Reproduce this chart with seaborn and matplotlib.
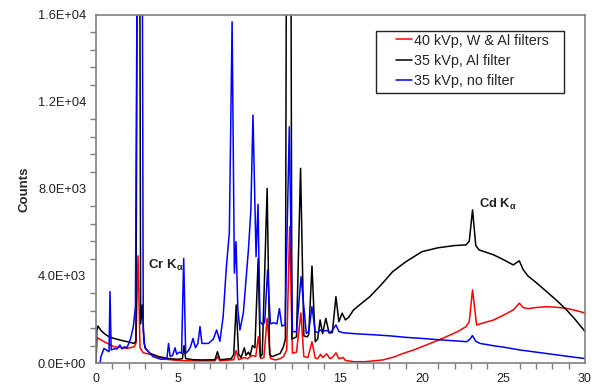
import numpy as np
import pandas as pd
import seaborn as sns
import matplotlib
matplotlib.use("Agg")
import matplotlib.pyplot as plt
from matplotlib.ticker import MultipleLocator, FuncFormatter
from matplotlib.patches import Rectangle

# ---------------- data ----------------
series_names = ["40 kVp, W & Al filters", "35 kVp, Al filter", "35 kVp, no filter"]
series_colors = ["#ff0000", "#000000", "#0000ff"]

energy_red = [0.0, 0.05, 0.1, 0.5, 1.1, 1.9, 2.35, 2.45, 2.58, 2.7, 2.9, 3.5, 4.3, 5.0, 5.6,
              7.3, 7.45, 7.6, 8.45, 8.6, 8.75, 9.1, 9.3, 9.6, 9.8, 9.96, 10.1, 10.3, 10.5, 10.7,
              11.0, 11.3, 11.5, 11.7, 11.88, 12.05, 12.3, 12.57, 12.75, 13.0, 13.25, 13.45, 13.6,
              13.78, 13.9, 14.15, 14.35, 14.5, 14.72, 14.9, 15.17, 15.3, 15.8, 16.5, 17.6, 18.3,
              18.84, 19.5, 20.0, 21.0, 21.5, 22.2, 22.7, 22.9, 23.1, 23.35, 23.8, 24.4, 25.0,
              25.6, 25.97, 26.2, 26.5, 27.0, 27.65, 28.3, 28.87, 29.4, 30.0]
counts_red = [0, 1100, 1150, 980, 750, 670, 750, 900, 4930, 700, 470, 370, 170, 120, 100,
              100, 290, 100, 150, 570, 150, 250, 200, 350, 300, 1210, 210, 250, 2050, 210,
              140, 200, 290, 600, 6270, 450, 500, 2300, 300, 250, 980, 230, 200,
              400, 250, 420, 200, 250, 470, 200, 250, 120, 60, 60, 140, 280,
              440, 600, 750, 1050, 1210, 1450, 1670, 1900, 3360, 1750, 1850, 1980, 2200,
              2440, 2750, 2550, 2500, 2550, 2590, 2560, 2510, 2420, 2300]

energy_black = [0.0, 0.05, 0.12, 0.3, 0.5, 0.8, 1.1, 1.5, 1.92, 2.33, 2.45, 2.62, 2.74, 2.84,
                2.95, 3.05, 3.3, 3.8, 4.5, 5.0, 5.3, 5.4, 5.5, 6.0, 6.5, 7.3, 7.45, 7.6, 8.3,
                8.45, 8.6, 8.75, 8.9, 9.1, 9.2, 9.35, 9.45, 9.6, 9.75, 9.95, 10.08, 10.2, 10.5,
                10.65, 10.8, 11.0, 11.3, 11.5, 11.62, 11.82, 12.02, 12.3, 12.55, 12.75, 12.95,
                13.05, 13.25, 13.45, 13.6, 13.75, 13.9, 14.1, 14.3, 14.5, 14.72, 14.9, 15.1,
                15.3, 15.5, 15.8, 16.3, 16.8, 17.5, 18.2, 19.0, 20.0, 21.0, 21.5, 22.0, 22.7,
                22.9, 23.1, 23.3, 23.5, 24.4, 25.0, 25.6, 25.97, 26.2, 26.5, 27.0, 27.65,
                28.3, 28.87, 29.4, 30.0]
counts_black = [0, 1500, 1700, 1500, 1360, 1200, 1130, 1050, 980, 900, 1000, 40000, 1800, 2670,
                900, 650, 450, 300, 200, 170, 200, 800, 200, 150, 140, 150, 520, 150, 200,
                400, 2670, 400, 250, 700, 350, 500, 350, 800, 700, 4800, 290, 400, 8030,
                400, 290, 350, 440, 750, 1100, 60000, 1100, 1200, 8950, 1250, 1200,
                1300, 4460, 980, 1100, 1980, 1350, 2050, 1380, 1400, 3050, 1900, 2290,
                1980, 2100, 2440, 2750, 3050, 3600, 4200, 4650, 5120, 5300, 5350, 5400, 5430,
                5600, 7040, 5400, 5200, 4970, 4750, 4510, 4700, 4300, 4000, 3700, 3280,
                2850, 2440, 2000, 1450]

energy_blue = [0.0, 0.25, 0.3, 0.49, 0.8, 0.86, 0.93, 1.1, 1.3, 1.47, 1.6, 1.75, 1.9, 2.13,
               2.29, 2.42, 2.6, 2.7, 2.8, 2.9, 3.0, 3.5, 4.0, 4.35, 4.45, 4.55, 4.7, 4.85,
               4.95, 5.1, 5.25, 5.38, 5.5, 5.7, 5.8, 5.95, 6.1, 6.25, 6.38, 6.5, 6.9, 7.2, 7.4,
               7.6, 7.8, 8.0, 8.18, 8.35, 8.49, 8.59, 8.7, 8.83, 9.04, 9.35, 9.5, 9.63, 9.82,
               9.94, 10.06, 10.25, 10.35, 10.53, 10.7, 10.9, 11.1, 11.25, 11.4, 11.6, 11.86,
               12.05, 12.3, 12.58, 12.9, 13.05, 13.25, 13.45, 13.6, 13.75, 13.9, 14.15, 14.4,
               14.72, 14.9, 15.17, 16.0, 17.0, 18.0, 19.0, 20.0, 21.0, 22.0, 22.74, 22.95,
               23.09, 23.3, 23.56, 24.5, 25.0, 26.0, 27.0, 28.0, 29.0, 29.9, 30.0]
counts_blue = [0, 0, 290, 670, 520, 3280, 600, 650, 650, 830, 650, 750, 700, 1130,
               1670, 2590, 30000, 22000, 30000, 1500, 700, 290, 170, 200, 900, 300, 350, 700,
               400, 500, 450, 4810, 440, 600, 750, 1130, 700, 900, 1670, 900, 900, 1100, 1520,
               1000, 2130, 4430, 5980, 15690, 4130, 5580, 2500, 1520, 2300, 5200, 7000, 11400, 4890,
               7300, 1900, 1750, 1900, 4280, 1800, 1850, 1800, 2500, 1700, 1750, 10860,
               1440, 1440, 3970, 1360, 1450, 2590, 1450, 1400, 1520, 1450, 1500, 1400,
               1750, 1450, 1390, 1340, 1300, 1250, 1180, 1130, 1070, 1020, 980, 1100,
               1260, 1000, 900, 780, 730, 600, 500, 400, 300, 215, 200]

x_ticks = [0, 5, 10, 15, 20, 25, 30]
y_ticks = [0, 4000, 8000, 12000, 16000]

# ---------------- build table ----------------
frames = []
for name, e, c in zip(series_names,
                      [energy_red, energy_black, energy_blue],
                      [counts_red, counts_black, counts_blue]):
    frames.append(pd.DataFrame({"Energy": e, "Counts": c, "Series": name}))
df = pd.concat(frames, ignore_index=True)

# ---------------- style ----------------
sns.set_style("white")
plt.rcParams["font.family"] = ["Liberation Sans", "DejaVu Sans"]
plt.rcParams["mathtext.fontset"] = "custom"
plt.rcParams["mathtext.rm"] = "Liberation Sans"
plt.rcParams["mathtext.bf"] = "Liberation Sans:bold"

W, H = 595, 384
fig = plt.figure(figsize=(W / 100, H / 100), dpi=100)
L, R, T, B = 96, 585, 15, 363
ax = fig.add_axes([L / W, 1 - B / H, (R - L) / W, (B - T) / H])

def axfrac(px, py):
    return (px - L) / (R - L), 1 - (py - T) / (B - T)

sns.lineplot(data=df, x="Energy", y="Counts", hue="Series", hue_order=series_names,
             palette=series_colors, estimator=None, sort=False, linewidth=1.1, ax=ax)

ax.set_xlim(0, 30)
ax.set_ylim(0, 16000)
ax.set_xticks(x_ticks)
ax.set_yticks(y_ticks)
ax.xaxis.set_minor_locator(MultipleLocator(1))
ax.yaxis.set_minor_locator(MultipleLocator(800))
ax.yaxis.set_major_formatter(FuncFormatter(lambda v, p: f"{v:.1E}"))
ax.set_xlabel("")
ax.set_ylabel("Counts", fontsize=9.5, fontweight="bold", labelpad=5)

spine_col = "#808080"
for s in ax.spines.values():
    s.set_color(spine_col)
    s.set_linewidth(1.2)

ax.tick_params(axis="x", which="major", direction="out", length=5, width=1, color=spine_col,
               labelsize=9, pad=2, labelcolor="#222222")
ax.tick_params(axis="x", which="minor", direction="out", length=4, width=1, color=spine_col,
               bottom=True)
ax.tick_params(axis="y", which="major", direction="inout", length=8, width=1, color="#333333",
               labelsize=9.3, pad=3, labelcolor="#222222")
ax.tick_params(axis="y", which="minor", direction="out", length=4, width=1, color=spine_col,
               left=True)

# annotations
ax.text(3.2, 4500, r"Cr K$_{\mathbf{\alpha}}$", fontsize=9.5, fontweight="bold",
        color="#222222", va="center", ha="left")
ax.text(23.5, 7270, r"Cd K$_{\mathbf{\alpha}}$", fontsize=9.3, fontweight="bold",
        color="#222222", va="center", ha="left")

# legend (frame drawn as a separate box like the original)
leg_fs = 10.4
ax0, ay0 = axfrac(379, 33.5)
leg = ax.legend(loc="upper left", bbox_to_anchor=(ax0, ay0), frameon=False,
                fontsize=leg_fs, handlelength=2.3, handletextpad=0.1, labelspacing=0.43,
                borderpad=0, borderaxespad=0, title=None)
for line in leg.get_lines():
    line.set_linewidth(1.1)
    xd = np.asarray(line.get_xdata(), dtype=float)
    yd = np.asarray(line.get_ydata(), dtype=float)
    x0, x1 = xd.min(), xd.max()
    yv = float(yd.mean())
    line.set_data([x0 + 0.5 * (x1 - x0), x1], [yv, yv])

bx0, by0 = axfrac(376, 92.7)
bx1, by1 = axfrac(564, 30.7)
ax.add_patch(Rectangle((bx0, by0), bx1 - bx0, by1 - by0, transform=ax.transAxes,
                       fill=False, edgecolor="#222222", linewidth=1.0, zorder=5,
                       clip_on=False))

fig.savefig("out.png", dpi=100)
